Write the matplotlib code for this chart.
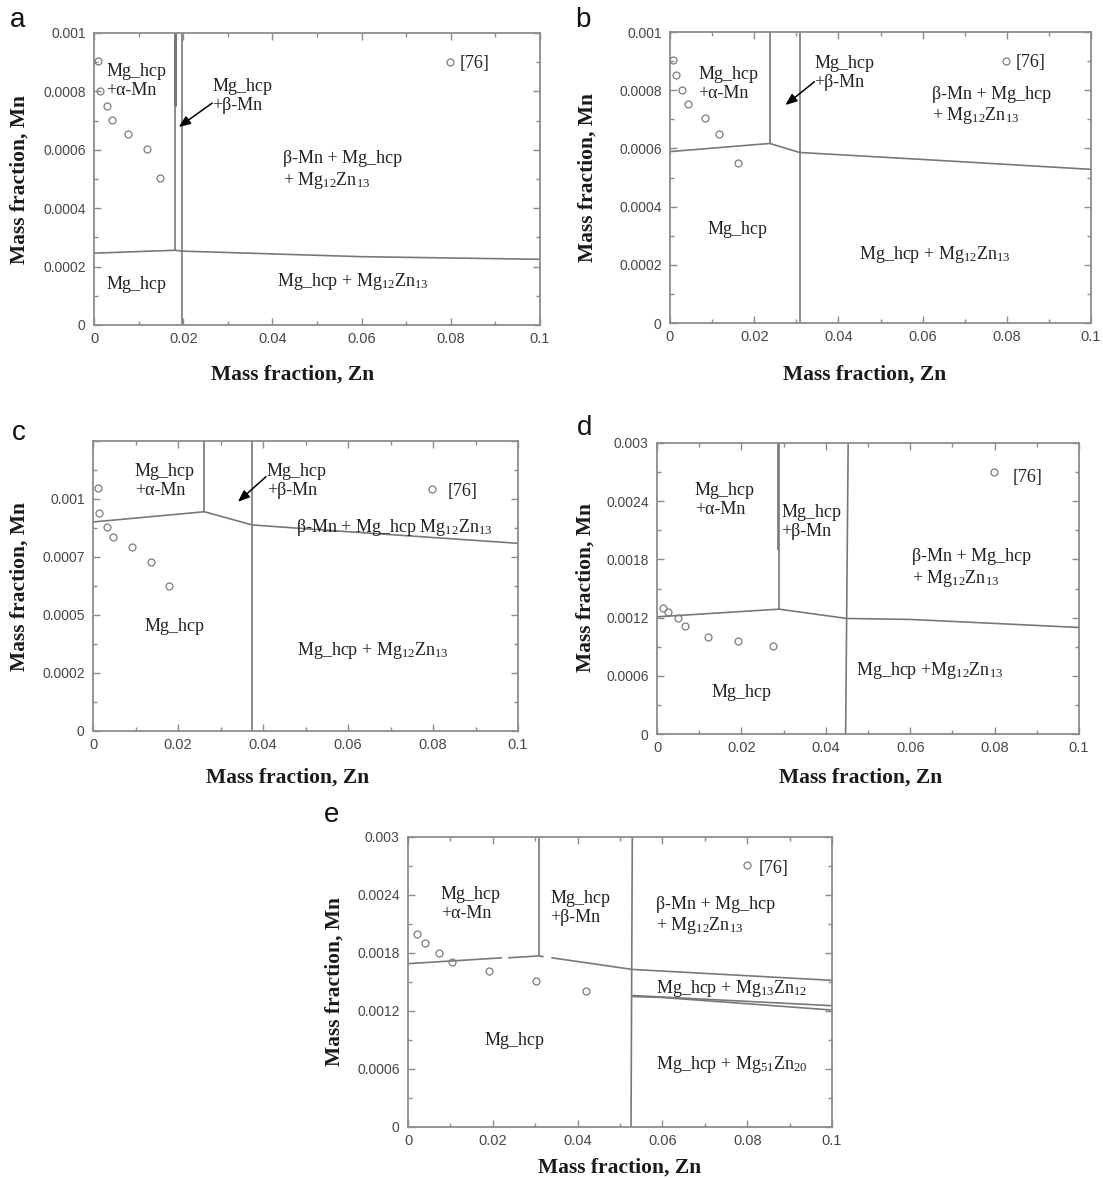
import matplotlib
matplotlib.use('Agg')
import matplotlib.pyplot as plt

plt.rcParams['font.family'] = ['Liberation Sans', 'DejaVu Sans']
plt.rcParams['mathtext.fontset'] = 'custom'
plt.rcParams['mathtext.rm'] = 'Liberation Serif'
plt.rcParams['mathtext.default'] = 'rm'

# ---------------- data ----------------
x_ticks = [0, 0.02, 0.04, 0.06, 0.08, 0.1]
x_tick_labels = ['0', '0.02', '0.04', '0.06', '0.08', '0.1']
x_minor = [0.01, 0.03, 0.05, 0.07, 0.09]

# panel a
a_y_ticks = [0, 0.0002, 0.0004, 0.0006, 0.0008, 0.001]
a_y_tick_labels = ['0', '0.0002', '0.0004', '0.0006', '0.0008', '0.001']
a_y_minor = [0.0001, 0.0003, 0.0005, 0.0007, 0.0009]
a_pts_x = [0.0008, 0.0013, 0.0030, 0.0041, 0.0077, 0.0119, 0.0149]
a_pts_y = [0.000903, 0.000802, 0.000750, 0.000703, 0.000655, 0.000603, 0.000503]
a_ref_x = [0.0798]
a_ref_y = [0.0009]
a_bound_x = [0, 0.0182, 0.0198, 0.06, 0.1]
a_bound_y = [0.000246, 0.000256, 0.000253, 0.000234, 0.000225]
a_v1_x = [0.0182, 0.0182]
a_v1_y = [0.001, 0.000256]
a_v1top_y = [0.001, 0.00075]
a_v2_x = [0.0198, 0.0198]
a_v2_y = [0.001, 0.0]

# panel b
b_y_ticks = a_y_ticks
b_y_tick_labels = a_y_tick_labels
b_y_minor = a_y_minor
b_pts_x = [0.00067, 0.0015, 0.0029, 0.0043, 0.0082, 0.0116, 0.0162]
b_pts_y = [0.000903, 0.000851, 0.000802, 0.000753, 0.000703, 0.000651, 0.000551]
b_ref_x = [0.0799]
b_ref_y = [0.0009]
b_bound_x = [0, 0.0237, 0.0308, 0.06, 0.1]
b_bound_y = [0.000589, 0.000617, 0.000586, 0.000562, 0.000528]
b_v1_x = [0.0237, 0.0237]
b_v1_y = [0.001, 0.000617]
b_v2_x = [0.0308, 0.0308]
b_v2_y = [0.001, 0.0]

# panel c
c_y_ticks = [0, 0.00025, 0.0005, 0.00075, 0.001, 0.00125]
c_y_tick_labels = ['0', '0.0002', '0.0005', '0.0007', '0.001', '']
c_y_minor = [0.000125, 0.000375, 0.000625, 0.000875, 0.001125]
c_pts_x = [0.0011, 0.0014, 0.0034, 0.0048, 0.0091, 0.0137, 0.0179]
c_pts_y = [0.001046, 0.000938, 0.000881, 0.000835, 0.000792, 0.000728, 0.000626]
c_ref_x = [0.0798]
c_ref_y = [0.001043]
c_bound_x = [0, 0.0262, 0.0375, 0.06, 0.1]
c_bound_y = [0.000901, 0.000945, 0.000888, 0.000859, 0.000809]
c_v1_x = [0.0262, 0.0262]
c_v1_y = [0.00125, 0.000945]
c_v2_x = [0.0375, 0.0375]
c_v2_y = [0.00125, 0.0]

# panel d
d_y_ticks = [0, 0.0006, 0.0012, 0.0018, 0.0024, 0.003]
d_y_tick_labels = ['0', '0.0006', '0.0012', '0.0018', '0.0024', '0.003']
d_y_minor = [0.0003, 0.0009, 0.0015, 0.0021, 0.0027]
d_pts_x = [0.0014, 0.0026, 0.0050, 0.0066, 0.0121, 0.0191, 0.0276]
d_pts_y = [0.001304, 0.001260, 0.001201, 0.001112, 0.001002, 0.000961, 0.000910]
d_ref_x = [0.0798]
d_ref_y = [0.002701]
d_bound_x = [0, 0.0289, 0.045, 0.06, 0.08, 0.1]
d_bound_y = [0.001208, 0.001287, 0.001191, 0.001181, 0.001140, 0.001098]
d_v1_x = [0.0289, 0.0289]
d_v1_y = [0.003, 0.001287]
d_v1b_x = [0.0286, 0.0286]
d_v1b_y = [0.003, 0.0019]
d_v2_x = [0.0453, 0.0447]
d_v2_y = [0.003, 0.0]

# panel e
e_y_ticks = d_y_ticks
e_y_tick_labels = d_y_tick_labels
e_y_minor = d_y_minor
e_pts_x = [0.0022, 0.0040, 0.0073, 0.0103, 0.0190, 0.0303, 0.0419]
e_pts_y = [0.001997, 0.001900, 0.001803, 0.001703, 0.001610, 0.001514, 0.001407]
e_ref_x = [0.0799]
e_ref_y = [0.002707]
e_bound1_x = [0, 0.0222]
e_bound1_y = [0.00169, 0.00175]
e_bound2_x = [0.0236, 0.0308, 0.0320]
e_bound2_y = [0.00175, 0.00177, 0.001762]
e_bound3_x = [0.0338, 0.0529, 0.1]
e_bound3_y = [0.001751, 0.00163, 0.001517]
e_low1_x = [0.0529, 0.1]
e_low1_y = [0.00136, 0.001255]
e_low2_x = [0.0529, 0.06, 0.1]
e_low2_y = [0.00135, 0.00134, 0.00121]
e_v1_x = [0.0308, 0.0308]
e_v1_y = [0.003, 0.00177]
e_v2_x = [0.0529, 0.0526]
e_v2_y = [0.003, 0.0]

ref_label = '[76]'
lbl_alpha = 'Mg_hcp\n+\u03b1-Mn'
lbl_beta = 'Mg_hcp\n+\u03b2-Mn'
lbl_three = '\u03b2-Mn + Mg_hcp\n+ Mg$_{12}$Zn$_{13}$'
lbl_three_c = '\u03b2-Mn + Mg_hcp Mg$_{12}$Zn$_{13}$'
lbl_hcp = 'Mg_hcp'
lbl_two = 'Mg_hcp + Mg$_{12}$Zn$_{13}$'
lbl_two_d = 'Mg_hcp +Mg$_{12}$Zn$_{13}$'
lbl_1312 = 'Mg_hcp + Mg$_{13}$Zn$_{12}$'
lbl_5120 = 'Mg_hcp + Mg$_{51}$Zn$_{20}$'

# ---------------- figure ----------------
W, H = 1103, 1180
fig = plt.figure(figsize=(W / 100, H / 100), dpi=100)

LINE = '#787878'
SPINE = '#8c8c8c'
MK = '#7c7c7c'
SERIF = 'Liberation Serif'
TXT = 13


def make_axes(l, r, t, b):
    return fig.add_axes([l / W, 1 - b / H, (r - l) / W, (b - t) / H])


def style(ax, ymax, yticks, ylabels, yminor):
    ax.set_xlim(0, 0.1)
    ax.set_ylim(0, ymax)
    ax.set_xticks(x_ticks)
    ax.set_xticklabels(x_tick_labels)
    ax.set_xticks(x_minor, minor=True)
    ax.set_yticks(yticks)
    ax.set_yticklabels(ylabels)
    ax.set_yticks(yminor, minor=True)
    ax.tick_params(which='both', direction='in', top=True, right=True,
                   color=SPINE, labelcolor='#474747', width=1)
    ax.tick_params(which='major', length=5)
    ax.tick_params(which='minor', length=3)
    ax.tick_params(axis='y', pad=6, labelsize=10)
    ax.tick_params(axis='x', pad=5, labelsize=10.5)
    for s in ax.spines.values():
        s.set_color(SPINE)
        s.set_linewidth(1.3)


def txt(ax, x, y, s):
    ax.text(x, y, s, family=SERIF, fontsize=TXT, ha='left', va='center',
            multialignment='left', linespacing=1.15, color='#222222')


def pts(ax, xs, ys):
    ax.plot(xs, ys, 'o', ms=5, mfc='none', mec=MK, mew=0.9, zorder=5)


def line(ax, xs, ys, lw=1.2):
    ax.plot(xs, ys, '-', color=LINE, lw=lw, solid_capstyle='butt')


def arrow(ax, x0, y0, x1, y1):
    ax.annotate('', xy=(x1, y1), xytext=(x0, y0),
                arrowprops=dict(arrowstyle='-|>,head_length=0.7,head_width=0.28',
                                color='black', lw=1.1, shrinkA=0, shrinkB=0))


def frame_labels(letter, lx, ly, ylab_x, ylab_y, xlab_x, xlab_y):
    fig.text(lx / W, 1 - ly / H, letter, fontsize=20, ha='center', va='center',
             color='#111111')
    fig.text(ylab_x / W, 1 - ylab_y / H, 'Mass fraction, Mn', rotation=90,
             family=SERIF, fontweight='bold', fontsize=15.5, ha='center', va='center',
             color='#1a1a1a')
    fig.text(xlab_x / W, 1 - xlab_y / H, 'Mass fraction, Zn',
             family=SERIF, fontweight='bold', fontsize=15.5, ha='center', va='center',
             color='#1a1a1a')


# ---- panel a ----
ax = make_axes(94, 540, 33, 325)
style(ax, 0.001, a_y_ticks, a_y_tick_labels, a_y_minor)
line(ax, a_bound_x, a_bound_y)
line(ax, a_v1_x, a_v1_y)
line(ax, a_v1_x, a_v1top_y, lw=2.2)
line(ax, a_v2_x, a_v2_y)
pts(ax, a_pts_x, a_pts_y)
pts(ax, a_ref_x, a_ref_y)
txt(ax, 0.0028, 0.000834, lbl_alpha)
txt(ax, 0.0265, 0.000784, lbl_beta)
txt(ax, 0.0423, 0.000529, lbl_three)
txt(ax, 0.0028, 0.000137, lbl_hcp)
txt(ax, 0.0411, 0.000149, lbl_two)
txt(ax, 0.082, 0.000897, ref_label)
arrow(ax, 0.0265, 0.00076, 0.0190, 0.000678)
frame_labels('a', 18, 20, 20, 179, 293, 375)

# ---- panel b ----
ax = make_axes(670, 1091, 32, 323)
style(ax, 0.001, b_y_ticks, b_y_tick_labels, b_y_minor)
line(ax, b_bound_x, b_bound_y)
line(ax, b_v1_x, b_v1_y)
line(ax, b_v2_x, b_v2_y)
pts(ax, b_pts_x, b_pts_y)
pts(ax, b_ref_x, b_ref_y)
txt(ax, 0.0067, 0.00082, lbl_alpha)
txt(ax, 0.0343, 0.00086, lbl_beta)
txt(ax, 0.0622, 0.000746, lbl_three)
txt(ax, 0.0090, 0.00032, lbl_hcp)
txt(ax, 0.0450, 0.000234, lbl_two)
txt(ax, 0.082, 0.000894, ref_label)
arrow(ax, 0.0343, 0.000829, 0.0274, 0.000749)
frame_labels('b', 583, 20, 588, 178, 865, 375)

# ---- panel c ----
ax = make_axes(93, 518, 441, 731)
style(ax, 0.00125, c_y_ticks, c_y_tick_labels, c_y_minor)
line(ax, c_bound_x, c_bound_y)
line(ax, c_v1_x, c_v1_y)
line(ax, c_v2_x, c_v2_y)
pts(ax, c_pts_x, c_pts_y)
pts(ax, c_ref_x, c_ref_y)
txt(ax, 0.0098, 0.001079, lbl_alpha)
txt(ax, 0.0409, 0.001079, lbl_beta)
txt(ax, 0.0478, 0.000878, lbl_three_c)
txt(ax, 0.0121, 0.00045, lbl_hcp)
txt(ax, 0.0480, 0.000346, lbl_two)
txt(ax, 0.0834, 0.001034, ref_label)
arrow(ax, 0.0407, 0.001096, 0.0341, 0.000988)
frame_labels('c', 19, 433, 20, 586, 288, 778)

# ---- panel d ----
ax = make_axes(657, 1079, 443, 734)
style(ax, 0.003, d_y_ticks, d_y_tick_labels, d_y_minor)
line(ax, d_bound_x, d_bound_y)
line(ax, d_v1_x, d_v1_y)
line(ax, d_v1b_x, d_v1b_y)
line(ax, d_v2_x, d_v2_y)
pts(ax, d_pts_x, d_pts_y)
pts(ax, d_ref_x, d_ref_y)
txt(ax, 0.0090, 0.002416, lbl_alpha)
txt(ax, 0.0295, 0.00219, lbl_beta)
txt(ax, 0.0604, 0.001706, lbl_three)
txt(ax, 0.0129, 0.000429, lbl_hcp)
txt(ax, 0.0471, 0.000659, lbl_two_d)
txt(ax, 0.0843, 0.00264, ref_label)
frame_labels('d', 585, 428, 586, 588, 861, 778)

# ---- panel e ----
ax = make_axes(408, 832, 837, 1127)
style(ax, 0.003, e_y_ticks, e_y_tick_labels, e_y_minor)
line(ax, e_bound1_x, e_bound1_y)
line(ax, e_bound2_x, e_bound2_y)
line(ax, e_bound3_x, e_bound3_y)
line(ax, e_low1_x, e_low1_y)
line(ax, e_low2_x, e_low2_y)
line(ax, e_v1_x, e_v1_y)
line(ax, e_v2_x, e_v2_y)
pts(ax, e_pts_x, e_pts_y)
pts(ax, e_ref_x, e_ref_y)
txt(ax, 0.0077, 0.002303, lbl_alpha)
txt(ax, 0.0335, 0.002269, lbl_beta)
txt(ax, 0.0584, 0.002183, lbl_three)
txt(ax, 0.0584, 0.001431, lbl_1312)
txt(ax, 0.0180, 0.000897, lbl_hcp)
txt(ax, 0.0584, 0.000645, lbl_5120)
txt(ax, 0.0828, 0.002672, ref_label)
frame_labels('e', 332, 815, 335, 982, 620, 1168)

fig.savefig('out.png', dpi=100)
